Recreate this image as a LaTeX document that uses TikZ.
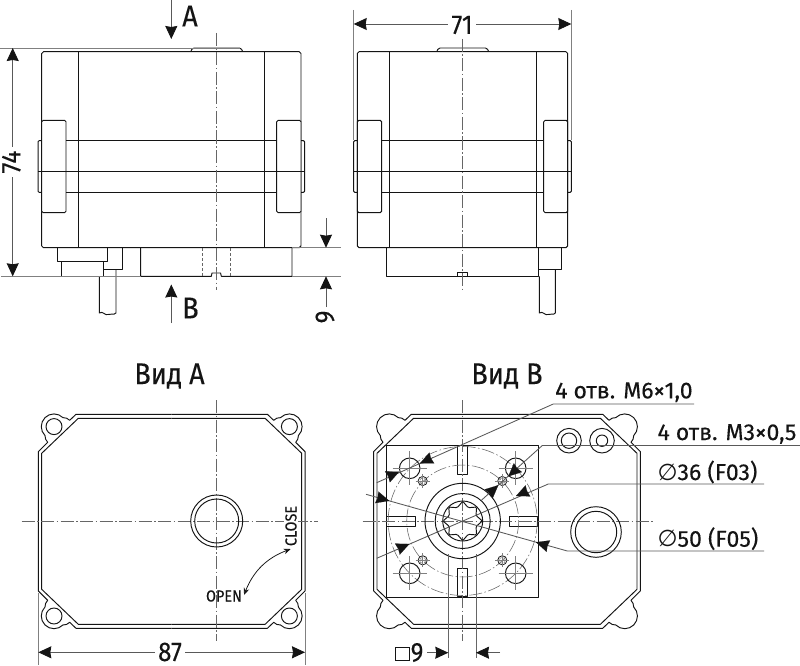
\documentclass[tikz,border=0pt]{standalone}
\usepackage{fontspec}
\usetikzlibrary{arrows.meta}
\setmainfont{Fira Sans}[FakeStretch=0.9,FakeBold=0.25]
\newfontfamily\widefont{Fira Sans}[FakeStretch=1.0,FakeBold=0.25]
\newfontfamily\symfont{DejaVu Sans}
\definecolor{ink}{gray}{0.08}
\tikzset{
  bodyline/.style={draw=ink,line width=0.95pt,line join=round},
  thinb/.style={draw=ink,line width=0.75pt},
  axisline/.style={draw=black!60,line width=0.55pt,dash pattern=on 13pt off 2.5pt on 1.5pt off 2.5pt},
  extline/.style={draw=black!50,line width=0.8pt},
  leadline/.style={draw=black!65,line width=0.85pt},
  headline/.style={leadline,-{Stealth[length=13pt,width=12pt,inset=1pt,color=ink]}},
  headonly/.style={-{Stealth[length=13pt,width=12pt,inset=1pt,color=ink]},draw=ink,line width=0.1pt},
  bothline/.style={leadline,{Stealth[length=13pt,width=12pt,inset=1pt,color=ink]}-{Stealth[length=13pt,width=12pt,inset=1pt,color=ink]}},
  numtxt/.style={inner sep=0pt,text=ink,font=\fontsize{27}{27}\selectfont},
  numgap/.style={numtxt,fill=white,inner xsep=3.5pt,inner ysep=1pt},
  captxt/.style={inner sep=0pt,text=ink,font=\fontsize{30}{30}\selectfont},
  lbltxt/.style={inner sep=0pt,anchor=base west,text=ink,font=\widefont\fontsize{23}{23}\selectfont},
  tinytxt/.style={inner sep=0pt,text=ink,font=\fontsize{16}{16}\selectfont},
}
\newcommand\sideview[6]{%
  \draw[bodyline,rounded corners=1.8pt] (#1,51.7) rectangle (#2,247.7);
  \draw[bodyline] (#3,51.7) -- (#3,247.7) (#4,51.7) -- (#4,247.7);
  \draw[bodyline,fill=white,rounded corners=1.5pt] (#1,120.3) rectangle (#5,212.7);
  \draw[bodyline,fill=white,rounded corners=1.5pt] (#6,120.3) rectangle (#2,212.7);
  \draw[bodyline] (#5,140.7) -- (#6,140.7) (#5,192.3) -- (#6,192.3);
  \draw[bodyline,rounded corners=1pt] (#1,140.7) -- (#1-3.6,140.7) -- (#1-3.6,192.3) -- (#1,192.3);
  \draw[bodyline,rounded corners=1pt] (#2,140.7) -- (#2+3.6,140.7) -- (#2+3.6,192.3) -- (#2,192.3);
  \draw[bodyline] (#1-3.6,171) -- (#2+3.6,171);
}
\newcommand\housing{%
  \foreach \sx/\sy in {1/1,-1/1,1/-1,-1/-1}{
    \begin{scope}[xscale=\sx,yscale=\sy]
      \draw[bodyline] (-133.4,0) -- (-133.4,-69.6) -- (-124,-79)
        .. controls (-125.6,-81) and (-127,-83) .. (-126.7,-85.7)
        arc[start angle=135,end angle=315,radius=12.7]
        .. controls (-106.2,-103.8) and (-104,-103) .. (-102,-101)
        -- (-95.7,-107) -- (0,-107);
      \draw[bodyline] (-130,0) -- (-130,-68) -- (-93.4,-103) -- (0,-103);
    \end{scope}
  }
}
\begin{document}
\begin{tikzpicture}[x=1pt,y=1pt,yscale=-1]
\useasboundingbox (0,0) rectangle (800,666);
\fill[white] (0,0) rectangle (800,666);

% ---------- left side view
\sideview{41.7}{301}{78}{264.3}{66}{276.7}
\draw[bodyline,rounded corners=1.5pt] (190.7,51.7) -- (192.5,48) -- (241,48) -- (242.7,51.7);
\draw[bodyline] (57.3,247.7) -- (57.3,261) -- (107.3,261) -- (107.3,247.7);
\draw[bodyline] (61.7,261) -- (61.7,276.3) -- (103,276.3) -- (103,261);
\draw[bodyline] (122.3,247.7) -- (122.3,269) -- (103,269);
\draw[bodyline] (99.3,276.3) -- (99.3,313) .. controls (103,310.5) and (105,316) .. (108,314.5) .. controls (111,312.5) and (113,316) .. (116,313) -- (116,269);
\draw[bodyline] (140.7,247.7) -- (140.7,276.3) -- (211.3,276.3) -- (212,273) -- (220.6,273) -- (221.3,276.3) -- (292,276.3) -- (292,247.7);
\draw[draw=black!60,line width=0.6pt,densely dashed] (202.3,248) -- (202.3,276) (230,248) -- (230,276);
\draw[axisline] (216,33) -- (216,290);

% dimension 74
\draw[extline] (0,48) -- (240,48) (1,276.3) -- (140.7,276.3);
\draw[bothline] (12.7,48) -- (12.7,276.3);
\node[numgap,rotate=90] (d74) at (11.3,162) {74};
% arrows A, B
\coordinate (aS) at (171.3,0); \coordinate (aE) at (171.3,39);
\draw[headline] (aS) -- (aE);
\node[captxt] (lA) at (190,16) {A};
\coordinate (bS) at (171.3,323); \coordinate (bE) at (171.3,284.5);
\draw[headline] (bS) -- (bE);
\node[captxt] (lB) at (190.5,308) {B};
% dimension 9
\draw[extline] (292,247.7) -- (341,247.7) (292,276.3) -- (341,276.3);
\coordinate (n1) at (326,218); \coordinate (n2) at (326,247.7);
\coordinate (n3) at (326,307); \coordinate (n4) at (326,276.3);
\draw[headline] (n1) -- (n2);
\draw[headline] (n3) -- (n4);
\node[numtxt,rotate=90] (d9) at (325,317) {9};

% ---------- right side view
\sideview{357.3}{567.7}{389.7}{536}{381.7}{543.7}
\draw[bodyline,rounded corners=1.5pt] (436.7,51.7) -- (438.5,48) -- (487,48) -- (488.7,51.7);
\draw[bodyline] (386.7,247.7) -- (386.7,276.3) -- (538,276.3) -- (538,247.7);
\draw[bodyline] (457.7,276.3) -- (457.7,272.7) -- (467.3,272.7) -- (467.3,276.3);
\draw[bodyline] (538,269) -- (561.7,269) -- (561.7,247.7);
\draw[bodyline] (539.3,276.3) -- (539.3,313) .. controls (543,310.5) and (545,316) .. (548,314.5) .. controls (551,312.5) and (553,316) .. (555.3,313) -- (555.3,269);
\draw[axisline] (462.3,39) -- (462.3,289);
% dimension 71
\draw[extline] (353.7,10) -- (353.7,140) (571.3,10) -- (571.3,140);
\draw[bothline] (353.7,24) -- (571.3,24);
\node[numgap] (d71) at (462,25) {71};

% ---------- titles
\node[captxt] (tA) at (169.5,376) {Вид А};
\node[captxt] (tB) at (507,376) {Вид В};

% ---------- view A
\begin{scope}[shift={(171.7,521.3)}]
  \housing
  \foreach \sx/\sy in {1/1,-1/1,1/-1,-1/-1}
    \draw[bodyline] (\sx*117.7,\sy*94.7) circle[radius=8];
\end{scope}
\draw[axisline] (216.7,400) -- (216.7,641);
\draw[axisline] (21.7,521) -- (317.7,521);
\draw[bodyline] (216.7,521) circle[radius=26] (216.7,521) circle[radius=22];
\node[tinytxt,rotate=90,fill=white,inner sep=1pt] (close) at (291,526) {CLOSE};
\node[tinytxt] (open) at (224,596) {OPEN};
\coordinate (arcA) at (290.7,549); \coordinate (arcB) at (244,595);
\draw[thinb,{Stealth[length=7pt,width=5.5pt]}-{Stealth[length=7pt,width=5.5pt]}] (arcA) to[bend left=24] (arcB);
% dimension 87
\draw[extline] (38.3,593) -- (38.3,665) (305,593) -- (305,665);
\draw[bothline] (38.3,652.3) -- (305,652.3);
\node[numgap] (d87) at (170,652) {87};

% ---------- view B
\begin{scope}[shift={(507,521.3)}]
  \housing
\end{scope}
\draw[bodyline] (386.7,445) rectangle (538.3,597.3);
\foreach \xa/\ya/\xb/\yb in {457.7/445/467.7/474, 386.7/516/415/526, 509.3/516/537.7/526, 457.7/568.3/467.7/596.7}
  \draw[bodyline] (\xa,\ya) rectangle (\xb,\yb);
\draw[axisline] (462.7,400) -- (462.7,641);
\draw[axisline] (362.7,521) -- (655,521);
\draw[axisline] (462.7,521) circle[radius=74.5];
\draw[axisline] (462.7,521) circle[radius=56];
\foreach \r in {37.7,27.5,20} \draw[bodyline] (462.7,521) circle[radius=\r];
\begin{scope}[shift={(462.7,521)}]
  \draw[bodyline,rounded corners=1.2pt] (0:19.7) -- (22.5:14.4) -- (45:19.7) -- (67.5:14.4) -- (90:19.7) -- (112.5:14.4) -- (135:19.7) -- (157.5:14.4) -- (180:19.7) -- (202.5:14.4) -- (225:19.7) -- (247.5:14.4) -- (270:19.7) -- (292.5:14.4) -- (315:19.7) -- (337.5:14.4) -- cycle;
\end{scope}
% M6 holes and M3 holes
\foreach \cx/\cy in {409.7/468.3,515.7/468.3,409.7/573.3,515.7/573.3}{
  \draw[bodyline] (\cx,\cy) circle[radius=10.3];
  \draw[draw=black!50,line width=0.5pt] (\cx-17,\cy) -- (\cx+17,\cy) (\cx,\cy-17) -- (\cx,\cy+17);
}
\foreach \cx/\cy in {422.7/481,502.3/481,422.7/560.3,502.3/560.3}{
  \draw[thinb] (\cx,\cy) circle[radius=4.6];
  \draw[draw=black!55,line width=0.5pt,densely dashed] (\cx,\cy) circle[radius=3];
  \draw[draw=black!50,line width=0.5pt] (\cx-7,\cy) -- (\cx+7,\cy) (\cx,\cy-7) -- (\cx,\cy+7);
}
% sockets on the right
\draw[bodyline] (569,440.7) circle[radius=12.3] (569,440.7) circle[radius=7.7];
\draw[bodyline] (602,440.7) circle[radius=12.3] (602,440.7) circle[radius=5.7];
\draw[bodyline] (596,532) circle[radius=25.3] (596,532) circle[radius=20.7];
% square 9
\draw[extline,draw=black!60] (448.3,554) -- (448.3,658) (476,554) -- (476,658);
\node[numtxt] (q9) at (417,652.5) {9};
\draw[draw=ink,line width=0.7pt] (395.2,647.2) rectangle (409.2,660.8);
\coordinate (q1) at (427,652.7); \coordinate (q2) at (448.3,652.7);
\coordinate (q3) at (500,652.7); \coordinate (q4) at (476,652.7);
\draw[headline] (q1) -- (q2);
\draw[headline] (q3) -- (q4);

% leaders
\draw[leadline] (694,404) -- (553.3,404) -- (376.7,482.7);
\draw[headonly] (433,457.5) -- (420,463.3);
\draw[headonly] (386,477.5) -- (399.3,471.6);
\draw[leadline] (800,445.5) -- (542.3,445.5) -- (481.7,500);
\draw[headonly] (517.5,468) -- (508.3,476.4);
\draw[headonly] (488.5,494) -- (498.3,485.2);
\draw[leadline] (764,484) -- (548.3,484) -- (376.7,558.3);
\draw[headonly] (528,490.8) -- (516,496);
\draw[headonly] (397,549.3) -- (409.3,544);
\draw[leadline] (764,551) -- (567.3,551) -- (366,494.3);
\draw[headonly] (548,546) -- (536,542.2);
\draw[headonly] (377,497.4) -- (389.3,500.9);

% leader labels
\node[lbltxt] (m6) at (555,398.3) {4 отв. М6×1,0};
\node[lbltxt] (m3) at (657.3,440) {4 отв. М3×0,5};
\node[lbltxt] (f3) at (657.3,480) {{\symfont ∅}36 (F03)};
\node[lbltxt] (f5) at (657.3,546.7) {{\symfont ∅}50 (F05)};
\end{tikzpicture}
\end{document}
